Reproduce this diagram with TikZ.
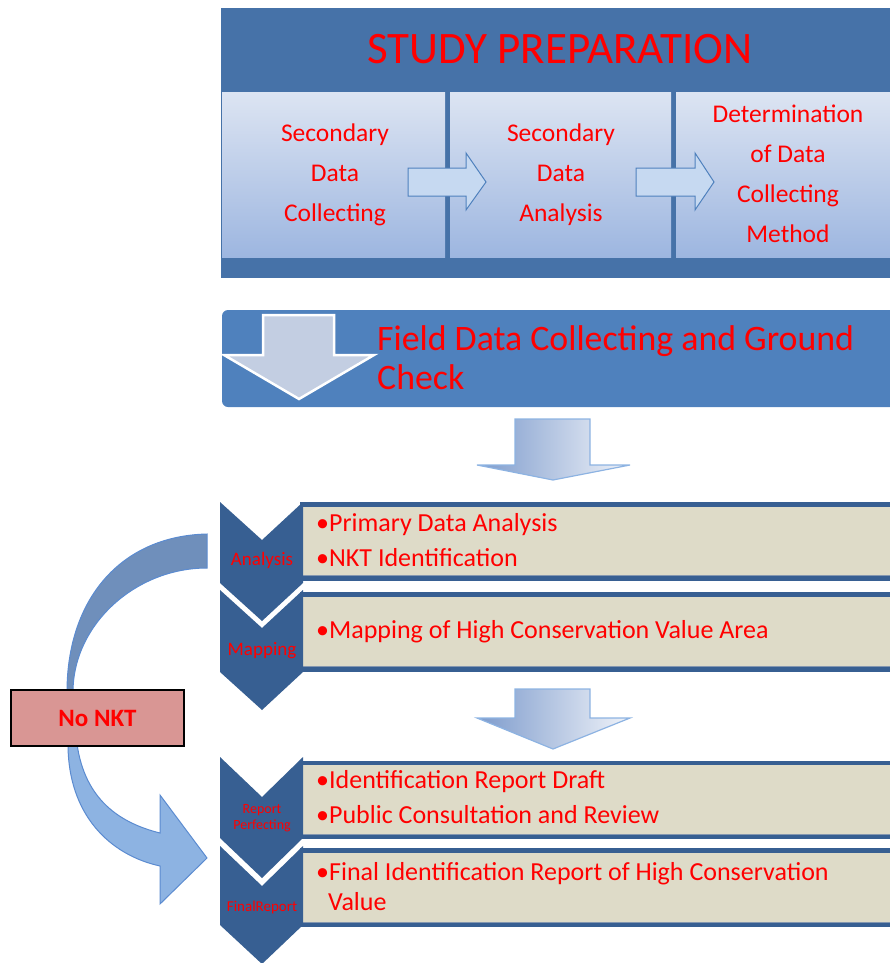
\documentclass[tikz,border=0pt]{standalone}
\usepackage{fontspec}
\setmainfont{Carlito}
\definecolor{outerblue}{HTML}{4672A8}
\definecolor{fieldblue}{HTML}{4F81BD}
\definecolor{chevblue}{HTML}{375F92}
\definecolor{beige}{HTML}{DEDBC8}
\definecolor{shadowgray}{HTML}{8497B0}
\definecolor{gtop}{HTML}{DCE4F2}
\definecolor{gbot}{HTML}{9DB6E0}
\definecolor{hollowfill}{HTML}{C6D9F1}
\definecolor{hollowline}{HTML}{4F81BD}
\definecolor{txtred}{HTML}{FF0000}
\definecolor{pinkbox}{HTML}{D99694}
\definecolor{curvedark}{HTML}{6F8FBB}
\definecolor{curvelight}{HTML}{8DB3E2}
\definecolor{curveline}{HTML}{5B8BD0}
\definecolor{downleft}{HTML}{7D9BCC}
\definecolor{downright}{HTML}{F0F3F9}
\definecolor{downline}{HTML}{8DB3E2}
\definecolor{innerarrow}{HTML}{C3CEE2}
\tikzset{
  gradbox/.style={top color=gtop, bottom color=gbot, draw=none},
  hollowarrow/.style={fill=hollowfill, draw=hollowline, line width=1pt},
  downarrow/.style={left color=downleft, right color=downright, draw=downline, line width=1.2pt, line join=miter},
  boxtext/.style={text=txtred, align=center, font=\fontsize{25.5}{40}\selectfont, inner sep=0pt},
  bullettext/.style={text=txtred, anchor=west, font=\fontsize{26}{30}\selectfont, inner sep=0pt},
  chevlabel/.style={text=txtred, align=center, inner sep=0pt},
  chevshape/.style={fill=chevblue, draw=none},
  rowdark/.style={fill=chevblue, draw=none},
  rowbeige/.style={fill=beige, draw=none}
}
\begin{document}
\begin{tikzpicture}[x=1pt,y=-1pt]
\useasboundingbox (0,0) rectangle (890,963);
\clip (0,0) rectangle (890,963);

% ---------- Study preparation block ----------
\fill[outerblue] (221,8) rectangle (895,278);
\node[text=txtred, font=\fontsize{45}{50}\selectfont, inner sep=0pt] (title) at (560,49) {STUDY PREPARATION};
\path[gradbox] (222,93) rectangle (445,257);
\path[gradbox] (450,93) rectangle (671,257);
\path[gradbox] (676,93) rectangle (895,257);
\node[boxtext] (sdc) at (335,175) {Secondary\\Data\\Collecting};
\node[boxtext] (sda) at (561,175) {Secondary\\Data\\Analysis};
\node[boxtext] (ddc) at (788,174) {Determination\\of Data\\Collecting\\Method};
\draw[hollowarrow] (408,168) -- (466,168) -- (466,153) -- (486,182) -- (466,210) -- (466,196) -- (408,196) -- cycle;
\draw[hollowarrow] (636,168) -- (695,168) -- (695,153) -- (714,182) -- (695,210) -- (695,196) -- (636,196) -- cycle;

% ---------- Field data block ----------
\fill[fieldblue, rounded corners=6pt] (222,310) rectangle (900,407);
\draw[fill=innerarrow, draw=white, line width=2.5pt, line join=miter]
  (263,315) -- (334,315) -- (334,355) -- (374,355) -- (299,399) -- (224,355) -- (263,355) -- cycle;
\node[text=txtred, anchor=north west, align=left, inner sep=0pt,
      font=\fontsize{35.8}{39}\selectfont] (field) at (377,325) {Field Data Collecting and Ground\\Check};

% ---------- Down arrows ----------
\draw[downarrow] (515,419) -- (590,419) -- (590,465) -- (630,465) -- (553,480) -- (477,465) -- (515,465) -- cycle;
\draw[downarrow] (515,689) -- (590,689) -- (590,718) -- (630,718) -- (553,749) -- (477,718) -- (515,718) -- cycle;

% ---------- Rows ----------
\fill[rowdark] (300,502) rectangle (895,581);
\fill[rowbeige] (303,507) rectangle (895,575);
\draw[shadowgray, line width=1pt] (303,575.5) -- (895,575.5);
\fill[rowdark] (300,592) rectangle (895,672);
\fill[rowbeige] (303,597) rectangle (895,666);
\draw[shadowgray, line width=1pt] (303,666.5) -- (895,666.5);
\fill[rowdark] (300,761) rectangle (895,839);
\fill[rowbeige] (303,765) rectangle (895,834);
\draw[shadowgray, line width=1pt] (303,834.5) -- (895,834.5);
\fill[rowdark] (300,848) rectangle (895,927);
\fill[rowbeige] (303,853) rectangle (895,922);
\draw[shadowgray, line width=1pt] (303,922.5) -- (895,922.5);

% ---------- Chevrons ----------
\fill[chevshape] (220,502) -- (262,540) -- (303,502) -- (303,583) -- (262,621) -- (220,583) -- cycle;
\fill[chevshape] (220,590) -- (262,628) -- (303,590) -- (303,672) -- (262,710) -- (220,672) -- cycle;
\fill[chevshape] (220,757) -- (262,797) -- (303,757) -- (303,838) -- (262,878) -- (220,838) -- cycle;
\fill[chevshape] (220,846) -- (262,886) -- (303,846) -- (303,925) -- (262,964) -- (220,925) -- cycle;
\node[chevlabel, font=\fontsize{19}{22}\selectfont] (lanalysis) at (262,560) {Analysis};
\node[chevlabel, font=\fontsize{19}{22}\selectfont] (lmapping) at (262,651) {Mapping};
\node[chevlabel, font=\fontsize{14}{16}\selectfont] (lreport) at (262,818) {Report\\Perfecting};
\node[chevlabel, font=\fontsize{15}{17}\selectfont] (lfinal) at (262,907) {FinalReport};

% ---------- Bullet texts ----------
\node[bullettext] (a1) at (316,525) {•Primary Data Analysis};
\node[bullettext] (a2) at (316,558) {•NKT Identification};
\node[bullettext] (m1) at (316,632) {•Mapping of High Conservation Value Area};
\node[bullettext] (r1) at (316,782) {•Identification Report Draft};
\node[bullettext] (r2) at (316,815) {•Public Consultation and Review};
\node[bullettext] (f1) at (316,874) {•Final Identification Report of High Conservation};
\node[bullettext] (f2) at (328,902) {Value};

% ---------- No NKT curved arrow ----------
\draw[fill=curvedark, draw=curveline, line width=1pt]
  (207,534) .. controls (120,536) and (67,600) .. (67,692) -- (73,692)
  .. controls (73,625) and (135,568) .. (207,568) -- cycle;
\draw[fill=curvelight, draw=curveline, line width=1pt, line join=miter]
  (77,744) .. controls (85,800) and (120,823) .. (160,833) -- (160,795) -- (207,858)
  -- (160,904) -- (160,866) .. controls (110,855) and (68,815) .. (68,744) -- cycle;
\node[draw=black, line width=2pt, fill=pinkbox, minimum width=173pt, minimum height=56pt,
      text=txtred, font=\fontsize{25}{28}\selectfont\bfseries, inner sep=0pt] (nonkt) at (97.5,718) {No NKT};
\end{tikzpicture}
\end{document}
